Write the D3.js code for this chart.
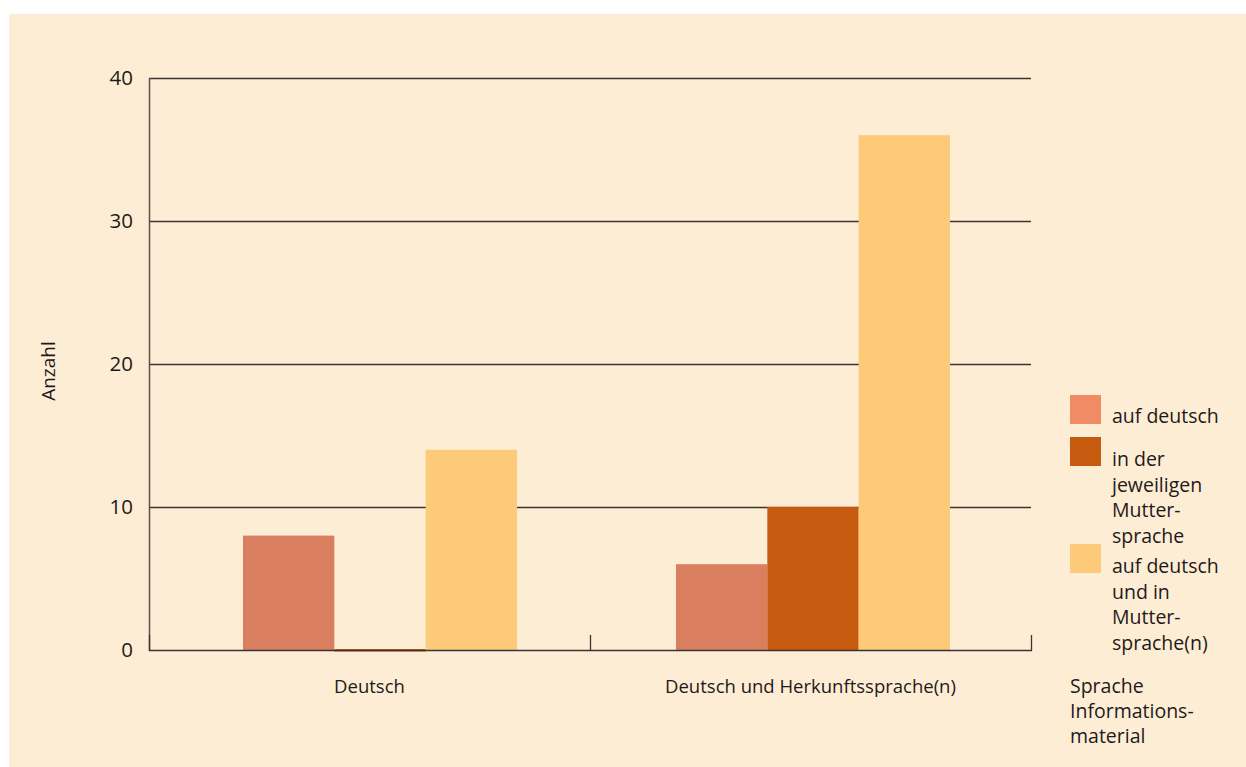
<!DOCTYPE html>
<html>
<head>
<meta charset="utf-8">
<script src="https://cdn.jsdelivr.net/npm/d3@7/dist/d3.min.js"></script>
<style>
  html, body { margin: 0; padding: 0; background: #ffffff; }
  svg { display: block; }
  text { font-family: "Open Sans", "Noto Sans", sans-serif; fill: #1e1a1a; }
</style>
</head>
<body>
<svg id="chart" width="1246" height="767"></svg>
<script>
const categories = ["Deutsch", "Deutsch und Herkunftssprache(n)"];
const seriesNames = ["auf deutsch", "in der jeweiligen Muttersprache", "auf deutsch und in Muttersprache(n)"];
const seriesAufDeutsch = [8, 6];
const seriesMuttersprache = [0, 10];
const seriesBeide = [14, 36];
const yTicks = [0, 10, 20, 30, 40];
const legendLabels = [
  ["auf deutsch"],
  ["in der", "jeweiligen", "Mutter-", "sprache"],
  ["auf deutsch", "und in", "Mutter-", "sprache(n)"]
];
const xTitleLines = ["Sprache", "Informations-", "material"];
const yTitle = "Anzahl";

const barColors = ["#d97e5e", "#c65a0f", "#fdca7a"];
const swatchColors = ["#f18b66", "#c65a0f", "#fdca7a"];

const svg = d3.select("#chart");
svg.append("rect").attr("x", 9).attr("y", 14).attr("width", 1246 - 9).attr("height", 767 - 14).attr("fill", "#feedd5");

const x = d3.scaleBand().domain(categories).range([149, 1031]).padding(0);
const xBars = d3.scaleBand().domain(categories).range([152, 1018]).padding(0);
const inner = d3.scaleBand().domain(d3.range(3)).range([91, 365]).padding(0);
const y = d3.scaleLinear().domain([0, 40]).range([650, 78]);

// gridlines
svg.append("g").selectAll("line").data(yTicks.filter(d => d > 0)).join("line")
  .attr("x1", 149).attr("x2", 1031)
  .attr("y1", d => Math.round(y(d)) + 0.5).attr("y2", d => Math.round(y(d)) + 0.5)
  .attr("stroke", "#3a3434").attr("stroke-width", 1.3);

// bars
const allSeries = [seriesAufDeutsch, seriesMuttersprache, seriesBeide];
const barData = [];
categories.forEach((c, ci) => allSeries.forEach((s, si) => barData.push({c, si, v: s[ci]})));
svg.append("g").selectAll("rect").data(barData).join("rect")
  .attr("x", d => xBars(d.c) + inner(d.si))
  .attr("width", inner.bandwidth())
  .attr("y", d => d.v === 0 ? y(0) - 1 : y(d.v))
  .attr("height", d => d.v === 0 ? 2.5 : y(0) - y(d.v))
  .attr("fill", d => barColors[d.si]);

// y axis line
svg.append("line").attr("x1", 149.5).attr("x2", 149.5).attr("y1", 78).attr("y2", 651)
  .attr("stroke", "#5b5050").attr("stroke-width", 1.5);
// baseline
svg.append("line").attr("x1", 149).attr("x2", 1032).attr("y1", 650.5).attr("y2", 650.5)
  .attr("stroke", "#3a3434").attr("stroke-width", 1.5);
// category ticks
const tickXs = [x(categories[0]), x(categories[1]), x(categories[1]) + x.bandwidth()];
svg.append("g").selectAll("line").data(tickXs).join("line")
  .attr("x1", d => Math.round(d) + 0.5).attr("x2", d => Math.round(d) + 0.5)
  .attr("y1", 635).attr("y2", 651)
  .attr("stroke", "#3a3434").attr("stroke-width", 1.3);

// y tick labels
svg.append("g").selectAll("text").data(yTicks).join("text")
  .attr("x", 133).attr("y", d => y(d) + 7)
  .attr("text-anchor", "end").attr("font-size", 20.5)
  .text(d => d);

// y title
svg.append("text").attr("transform", "translate(55,371) rotate(-90)")
  .attr("text-anchor", "middle").attr("font-size", 19).text(yTitle);

// category labels
svg.append("g").selectAll("text").data(categories).join("text")
  .attr("x", (d, i) => x(d) + x.bandwidth() / 2 + (i === 0 ? 0 : 0))
  .attr("y", 693)
  .attr("text-anchor", "middle").attr("font-size", 18.5)
  .text(d => d);

// legend
const swatchYs = [395, 437, 544];
const labelYs = [423, 466, 573];
const lg = svg.append("g");
lg.selectAll("rect").data(swatchColors).join("rect")
  .attr("x", 1070).attr("y", (d, i) => swatchYs[i]).attr("width", 31).attr("height", 29)
  .attr("fill", d => d);
legendLabels.forEach((lines, i) => {
  const t = lg.append("text").attr("x", 1112).attr("y", labelYs[i]).attr("font-size", 19.5);
  lines.forEach((l, j) => t.append("tspan").attr("x", 1112).attr("dy", j === 0 ? 0 : 25.5).text(l));
});

// x title
const xt = svg.append("text").attr("x", 1070).attr("y", 693).attr("font-size", 19.5);
xTitleLines.forEach((l, j) => xt.append("tspan").attr("x", 1070).attr("dy", j === 0 ? 0 : 25).text(l));
</script>
</body>
</html>
